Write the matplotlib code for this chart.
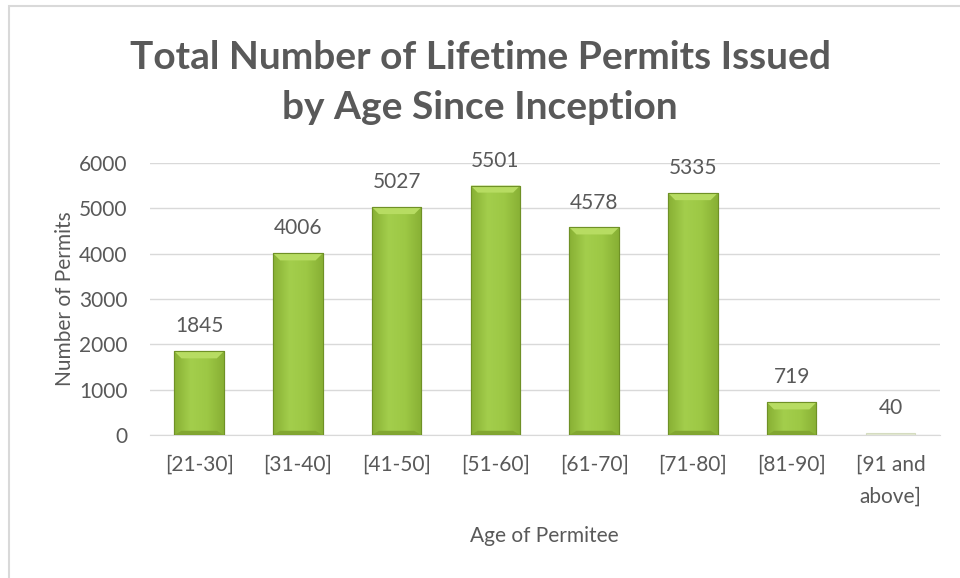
import numpy as np
import matplotlib.pyplot as plt
from matplotlib.patches import Rectangle, Polygon
from matplotlib.colors import LinearSegmentedColormap

plt.rcParams['font.family'] = ['Lato', 'DejaVu Sans']

ages = ['[21-30]', '[31-40]', '[41-50]', '[51-60]', '[61-70]', '[71-80]', '[81-90]', '[91 and\nabove]']
permits = [1845, 4006, 5027, 5501, 4578, 5335, 719, 40]

txt = '#595959'

fig = plt.figure(figsize=(9.6, 5.78), dpi=100)
fig.patches.append(Rectangle((0.009, -0.01), 1.1, 1.0, transform=fig.transFigure,
                             fill=False, edgecolor='#D9D9D9', linewidth=1.5))
ax = fig.add_axes([0.156, 0.2474, 0.823, 0.4706])

x = np.arange(len(ages))
bars = ax.bar(x, permits, width=0.5, color='#9CC843', edgecolor='#6F9126', linewidth=0.8, zorder=3)

ax.set_xlim(-0.5, len(ages) - 0.5)
ax.set_ylim(0, 6000)

# bevel look: horizontal gradient + light top facet
grad = LinearSegmentedColormap.from_list('g', ['#88B034', '#A3CE4C', '#9DC845', '#88B034'])
g = np.linspace(0, 1, 64).reshape(1, -1)
px = ax.transData.inverted()
p0 = px.transform((0, 0))
p1 = px.transform((7, 7))
dx, dy = p1[0] - p0[0], p1[1] - p0[1]
for b in bars:
    x0, w, h = b.get_x(), b.get_width(), b.get_height()
    if h < 3 * dy:
        b.set_facecolor('#E2E8D2')
        b.set_edgecolor('#D5DCC0')
        continue
    im = ax.imshow(g, cmap=grad, extent=(x0, x0 + w, 0, h), aspect='auto', zorder=3.1)
    im.set_clip_path(b)
    top = Polygon([(x0, h), (x0 + w, h), (x0 + w - dx, h - dy), (x0 + dx, h - dy)],
                  closed=True, facecolor='#B7DC62', edgecolor='none', zorder=3.2)
    ax.add_patch(top)
    bot = Polygon([(x0, 0), (x0 + w, 0), (x0 + w - dx, dy * 0.6), (x0 + dx, dy * 0.6)],
                  closed=True, facecolor='#82A631', edgecolor='none', zorder=3.2)
    ax.add_patch(bot)
    ax.add_patch(Rectangle((x0, 0), w, h, fill=False, edgecolor='#6F9126', linewidth=0.8, zorder=3.3))

for b, v in zip(bars, permits):
    ax.text(b.get_x() + b.get_width() / 2, v + 330, str(v), ha='center', va='bottom',
            fontsize=15, color=txt)

ax.set_xlim(-0.5, len(ages) - 0.5)
ax.set_ylim(0, 6000)
ax.set_yticks(range(0, 6001, 1000))
ax.set_xticks(x)
ax.set_xticklabels(ages, linespacing=1.75)
ax.yaxis.grid(True, color='#D9D9D9', linewidth=1.0, zorder=0)
for s in ['top', 'right', 'left']:
    ax.spines[s].set_visible(False)
ax.spines['bottom'].set_color('#D9D9D9')
ax.tick_params(axis='both', length=0, labelsize=15, colors=txt)
ax.tick_params(axis='x', pad=14)
ax.tick_params(axis='y', pad=16)

ax.set_ylabel('Number of Permits', fontsize=15, color=txt, labelpad=3)
ax.set_xlabel('Age of Permitee', fontsize=15, color=txt, labelpad=14)

fig.text(0.5, 0.858, 'Total Number of Lifetime Permits Issued\nby Age Since Inception',
         ha='center', va='center', fontsize=28, fontweight='bold', color=txt, linespacing=1.52)

fig.savefig('out.png', dpi=100)
